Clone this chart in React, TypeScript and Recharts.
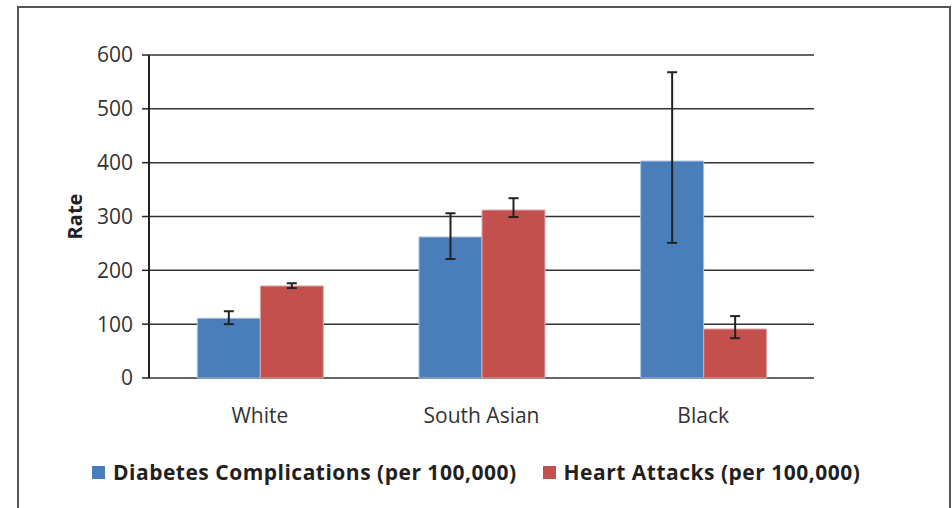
import React from 'react';
import { BarChart, Bar, XAxis, YAxis, CartesianGrid, ErrorBar, Legend, Label } from 'recharts';

const categories = ['White', 'South Asian', 'Black'];
const diabetes = [111, 262, 403];
const diabetesLow = [100, 221, 251];
const diabetesHigh = [124, 306, 568];
const heart = [171, 312, 91];
const heartLow = [167, 299, 74];
const heartHigh = [176, 334, 115];
const yTicks = [0, 100, 200, 300, 400, 500, 600];
const boundaryTicks = [0, 1, 2, 3];

const BLUE = '#4A7EBB';
const RED = '#C4504E';
const FONT = '"Open Sans", "Noto Sans", sans-serif';

const data = categories.map((c, i) => ({
  name: c,
  diabetes: diabetes[i],
  diabetesErr: [diabetes[i] - diabetesLow[i], diabetesHigh[i] - diabetes[i]],
  heart: heart[i],
  heartErr: [heart[i] - heartLow[i], heartHigh[i] - heart[i]],
}));

const legendItems = [
  { label: 'Diabetes Complications (per 100,000)', color: BLUE },
  { label: 'Heart Attacks (per 100,000)', color: RED },
];

const renderLegend = () => (
  <div style={{ display: 'flex', alignItems: 'center', fontFamily: FONT, fontWeight: 700, fontSize: 21, letterSpacing: 0.5, color: '#231f20', whiteSpace: 'nowrap' }}>
    {legendItems.map((it, i) => (
      <div key={i} style={{ display: 'flex', alignItems: 'center', marginRight: i === 0 ? 26 : 0 }}>
        <span style={{ display: 'inline-block', width: 13, height: 13, background: it.color, marginRight: 8 }} />
        <span>{it.label}</span>
      </div>
    ))}
  </div>
);

export default function App() {
  return (
    <div style={{ position: 'absolute', left: 0, top: 0, width: 952, height: 508, background: '#fff', overflow: 'hidden' }}>
      <div style={{ position: 'absolute', left: 17, top: 6, width: 930, height: 520, borderTop: '2px solid #555', borderLeft: '2px solid #555', borderRight: '2px solid #555' }} />
      <BarChart
        width={952}
        height={508}
        data={data}
        margin={{ top: 55, right: 138, bottom: 0, left: 0 }}
        barCategoryGap="21.8%"
        barGap={0}
      >
        <CartesianGrid horizontal vertical={false} stroke="#333" strokeWidth={1.5} />
        <XAxis
          xAxisId="b"
          type="number"
          domain={[0, 3]}
          ticks={boundaryTicks}
          height={0}
          tickFormatter={() => ''}
          tickSize={6}
          tickLine={{ stroke: '#222', strokeWidth: 1.5 }}
          axisLine={{ stroke: '#222', strokeWidth: 2 }}
          allowDataOverflow
        />
        <XAxis
          dataKey="name"
          height={130}
          axisLine={false}
          tickLine={false}
          tickSize={0}
          tickMargin={30}
          tick={{ fontFamily: FONT, fontSize: 21, fill: '#333' }}
        />
        <YAxis
          width={149}
          domain={[0, 600]}
          ticks={yTicks}
          tickSize={7}
          tickMargin={9}
          tick={{ fontFamily: FONT, fontSize: 21, fill: '#333' }}
          tickLine={{ stroke: '#222', strokeWidth: 1.5 }}
          axisLine={{ stroke: '#222', strokeWidth: 2 }}
        >
          <Label
            value="Rate"
            angle={-90}
            position="insideLeft"
            offset={75}
            style={{ fontFamily: FONT, fontSize: 20, fontWeight: 700, fill: '#231f20', textAnchor: 'middle' }}
          />
        </YAxis>
        <Bar dataKey="diabetes" fill={BLUE} stroke="#a9c1e0" strokeWidth={1} isAnimationActive={false}>
          <ErrorBar dataKey="diabetesErr" width={5} stroke="#222" strokeWidth={2} direction="y" />
        </Bar>
        <Bar dataKey="heart" fill={RED} stroke="#e0a8a6" strokeWidth={1} isAnimationActive={false}>
          <ErrorBar dataKey="heartErr" width={5} stroke="#222" strokeWidth={2} direction="y" />
        </Bar>
        <Legend
          layout="vertical"
          align="center"
          verticalAlign="middle"
          content={renderLegend}
          wrapperStyle={{ position: 'absolute', left: 92, top: 458, width: 'auto' }}
        />
      </BarChart>
    </div>
  );
}
